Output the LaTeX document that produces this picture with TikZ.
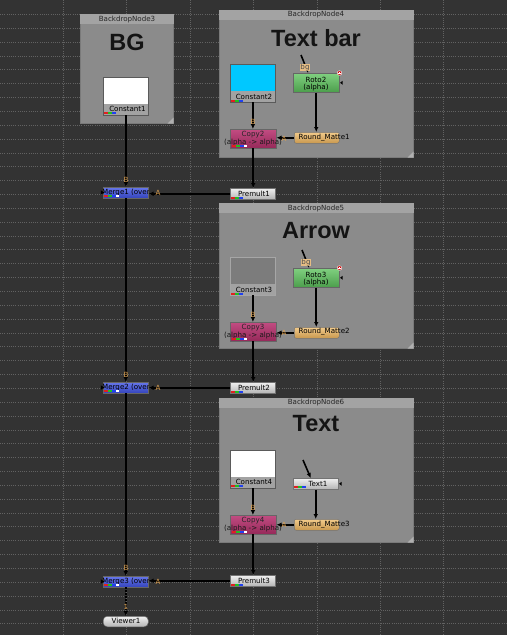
\documentclass[tikz,border=0pt]{standalone}
\usepackage{fontspec}
\setmainfont{DejaVu Sans}
\newfontfamily\bigfont{Liberation Sans}
\usetikzlibrary{arrows.meta}
\definecolor{bgc}{HTML}{333333}
\definecolor{gridc}{HTML}{626262}
\definecolor{bdbody}{HTML}{8B8B8B}
\definecolor{bdtitle}{HTML}{A3A3A3}
\definecolor{bdedge}{HTML}{7A7A7A}
\definecolor{bdtri}{HTML}{B0B0B0}
\definecolor{strip}{HTML}{A2A2A2}
\definecolor{boxedge}{HTML}{5A5A5A}
\definecolor{cyanc}{HTML}{00C8FF}
\definecolor{grayc}{HTML}{7C7C7C}
\definecolor{rotoT}{HTML}{80D080}
\definecolor{rotoB}{HTML}{4C9E4C}
\definecolor{copyT}{HTML}{C24C82}
\definecolor{copyB}{HTML}{962A5A}
\definecolor{rmT}{HTML}{F2CA8A}
\definecolor{rmB}{HTML}{C8984E}
\definecolor{pT}{HTML}{F0F0F0}
\definecolor{pB}{HTML}{B4B4B4}
\definecolor{mT}{HTML}{6676EA}
\definecolor{mB}{HTML}{3646BE}
\definecolor{tanc}{HTML}{DCA050}
\definecolor{chR}{HTML}{E02020}
\definecolor{chG}{HTML}{20C020}
\definecolor{chB}{HTML}{2040F0}
\newcommand\lbl{\fontsize{7.1}{7.5}\selectfont}
\newcommand\bigt{\bigfont\bfseries\fontsize{23.5}{24}\selectfont}
\newcommand\chmarks[3]{%
  \fill[chR] (#1,#2) rectangle ++(4,2);
  \fill[chG] (#1+4,#2) rectangle ++(4,2);
  \fill[chB] (#1+8,#2) rectangle ++(4,2);
  \ifnum#3=1 \fill[white] (#1+12,#2) rectangle ++(3,2);\fi}
\tikzset{
  lbl/.style={font=\lbl, inner sep=0pt, text=black},
  inl/.style={font=\lbl, inner sep=0pt, text=tanc},
  bigtitle/.style={font=\bigt, inner sep=0pt, text=black!92},
  bd/.style={fill=bdbody, draw=bdedge, line width=0.6pt, anchor=north west, inner sep=0pt},
  constbox/.style={draw=boxedge, line width=0.8pt, anchor=north west, inner sep=0pt,
    minimum width=45, minimum height=37.5,
    path picture={\fill[strip] ([yshift=10.5pt]path picture bounding box.south west) rectangle (path picture bounding box.south east);}},
  rotobox/.style={draw=black!60, line width=0.5pt, top color=rotoT, bottom color=rotoB, anchor=north west, inner sep=0pt, minimum width=46, minimum height=19},
  copybox/.style={draw=black!60, line width=0.5pt, top color=copyT, bottom color=copyB, anchor=north west, inner sep=0pt, minimum width=46, minimum height=18.5},
  rmbox/.style={draw=black!55, line width=0.5pt, top color=rmT, bottom color=rmB, rounded corners=2pt, anchor=north west, inner sep=0pt, minimum width=45, minimum height=11},
  greybox/.style={draw=black!55, line width=0.5pt, top color=pT, bottom color=pB, anchor=north west, inner sep=0pt, minimum width=45, minimum height=11},
  mergebox/.style={draw=black!60, line width=0.5pt, top color=mT, bottom color=mB, anchor=north west, inner sep=0pt, minimum width=45, minimum height=10.5},
  viewerbox/.style={draw=black!60, line width=0.5pt, top color=pT, bottom color=pB, rounded corners=4pt, anchor=north west, inner sep=0pt, minimum width=45, minimum height=10.5},
  conn/.style={line width=1.6pt, black, -{Latex[length=5pt,width=4.6pt]}},
  vconn/.style={line width=1.5pt, black, dash pattern=on 1.5pt off 1.5pt, -{Latex[length=5pt,width=4.6pt]}},
  maskarr/.style={fill=black},
}
\begin{document}
\begin{tikzpicture}[x=1pt,y=-1pt]
\useasboundingbox (0,0) rectangle (507,635);
\fill[bgc] (0,0) rectangle (507,635);
% grid
\foreach \i in {1,...,7} \draw[gridc, line width=0.7pt, dash pattern=on 1pt off 1.2pt] (\i*63.375,0) -- (\i*63.375,635);
\foreach \j in {1,...,45} \draw[gridc, line width=0.7pt, dash pattern=on 1pt off 1.2pt] (0,\j*13.85+0.5) -- (507,\j*13.85+0.5);

% ---------- backdrops
\node[bd, minimum width=93, minimum height=109] (bd3) at (80,14) {};
\node[bd, minimum width=194, minimum height=147] (bd4) at (219,10) {};
\node[bd, minimum width=194, minimum height=145] (bd5) at (219,203) {};
\node[bd, minimum width=194, minimum height=144] (bd6) at (219,398) {};
\foreach \b in {bd3,bd4,bd5,bd6}{
  \fill[bdtitle] (\b.north west) rectangle ([yshift=-9.5pt]\b.north east);
  \fill[bdtri] (\b.south east) -- ++(-6,0) -- ++(6,-6) -- cycle;
}
\node[lbl, text=black!85] (bd3t) at (127,19.2) {BackdropNode3};
\node[lbl, text=black!85] (bd4t) at (316,14.9) {BackdropNode4};
\node[lbl, text=black!85] (bd5t) at (316,208.2) {BackdropNode5};
\node[lbl, text=black!85] (bd6t) at (316,402.9) {BackdropNode6};
\node[bigtitle] (bgT) at (127,42) {BG};
\node[bigtitle] (tbT) at (316,38) {Text bar};
\node[bigtitle] (arT) at (316,231) {Arrow};
\node[bigtitle] (txT) at (316,424) {Text};

% ---------- constants
\node[constbox, fill=white] (c1) at (103,77) {};
\node[constbox, fill=cyanc] (c2) at (230,64) {};
\node[constbox, fill=grayc, draw=black!35] (c3) at (230,257) {};
\node[constbox, fill=white] (c4) at (230,450) {};
\node[lbl] (c1t) at (127.5,109) {Constant1};
\node[lbl] (c2t) at (254,96.5) {Constant2};
\node[lbl] (c3t) at (254,289.5) {Constant3};
\node[lbl] (c4t) at (254,482) {Constant4};
\chmarks{104}{112}{0}
\chmarks{231}{99.5}{0}
\chmarks{231}{292.5}{0}
\chmarks{231}{485}{0}

% ---------- roto / text
\node[rotobox] (r2) at (293,73) {};
\node[lbl] (r2a) at (316,79.5) {Roto2};
\node[lbl] (r2b) at (316,88) {(alpha)};
\node[rotobox] (r3) at (293,268) {};
\node[lbl] (r3a) at (316,274.5) {Roto3};
\node[lbl] (r3b) at (316,283) {(alpha)};
\node[greybox] (t1) at (293,478) {};
\node[lbl] (t1a) at (318,483.5) {Text1};
\chmarks{294}{486}{0}
\foreach \r in {r2,r3}{
  \filldraw[fill=red!80!black, draw=white, line width=0.4pt] (\r.north east) circle (2.3);
  \draw[white, line width=0.5pt] ([xshift=-1.2pt]\r.north east) -- ([xshift=1.2pt]\r.north east);
  \draw[white, line width=0.5pt] ([yshift=-1.2pt]\r.north east) -- ([yshift=1.2pt]\r.north east);
}
\foreach \r in {r2,r3,t1}{
  \fill[maskarr] ([xshift=0.6pt]\r.east) -- ++(2.6,-2) -- ++(0,4) -- cycle;
}

% ---------- round mattes
\node[rmbox] (rm1) at (294,132) {};
\node[lbl, anchor=west] (rm1t) at (298.5,137.5) {Round\_Matte1};
\node[rmbox] (rm2) at (294,327) {};
\node[lbl, anchor=west] (rm2t) at (298.5,332) {Round\_Matte2};
\node[rmbox] (rm3) at (294,519) {};
\node[lbl, anchor=west] (rm3t) at (298.5,524.5) {Round\_Matte3};

% ---------- copies
\node[copybox] (cp2) at (230,129) {};
\node[lbl, text=black!85] (cp2a) at (253,134.5) {Copy2};
\node[lbl, text=black!90] (cp2b) at (253,142.7) {(alpha -> alpha)};
\node[copybox] (cp3) at (230,322) {};
\node[lbl, text=black!85] (cp3a) at (253,327.5) {Copy3};
\node[lbl, text=black!90] (cp3b) at (253,335.7) {(alpha -> alpha)};
\node[copybox] (cp4) at (230,515) {};
\node[lbl, text=black!85] (cp4a) at (253,520.5) {Copy4};
\node[lbl, text=black!90] (cp4b) at (253,528.7) {(alpha -> alpha)};
\chmarks{232}{144.5}{1}
\chmarks{232}{337.5}{1}
\chmarks{232}{530.5}{1}

% ---------- premults
\node[greybox] (p1) at (230,188) {};
\node[lbl] (p1t) at (254,193.5) {Premult1};
\node[greybox] (p2) at (230,382) {};
\node[lbl] (p2t) at (254,387.5) {Premult2};
\node[greybox] (p3) at (230,575) {};
\node[lbl] (p3t) at (254,580.5) {Premult3};
\chmarks{231}{196.5}{0}
\chmarks{231}{390.5}{0}
\chmarks{231}{583.5}{0}

% ---------- merges
\node[mergebox] (m1) at (103,187) {};
\node[mergebox] (m2) at (103,382) {};
\node[mergebox] (m3) at (103,576) {};
\begin{scope}
  \clip (m1.north west) rectangle (m1.south east);
  \node[lbl, anchor=west] (m1t) at (102,192.3) {Merge1 (over)};
\end{scope}
\begin{scope}
  \clip (m2.north west) rectangle (m2.south east);
  \node[lbl, anchor=west] (m2t) at (102,387.3) {Merge2 (over)};
\end{scope}
\begin{scope}
  \clip (m3.north west) rectangle (m3.south east);
  \node[lbl, anchor=west] (m3t) at (102,581.3) {Merge3 (over)};
\end{scope}
\chmarks{104}{195}{1}
\chmarks{104}{390}{1}
\chmarks{104}{584}{1}
\foreach \m in {m1,m2,m3}{
  \fill[maskarr] ([xshift=1.2pt]\m.west) -- ++(-3.4,-2.2) -- ++(0,4.4) -- cycle;
}

% ---------- viewer
\node[viewerbox] (v1) at (103,616) {};
\node[lbl] (v1t) at (126,621.3) {Viewer1};

% ---------- connectors
\draw[conn] (c1.south) -- (c1.south |- m1.north);
\node[inl] (b1) at (126,180) {B};
\draw[conn] (m1.south) -- (m2.north);
\node[inl] (b2) at (126,374.5) {B};
\draw[conn] (m2.south) -- (m3.north);
\node[inl] (b3) at (126,568) {B};
\draw[vconn] (m3.south) -- (v1.north);
\node[inl] (vi1) at (126,607) {1};

\foreach \c/\cp/\r/\rm/\p/\m in {c2/cp2/r2/rm1/p1/m1, c3/cp3/r3/rm2/p2/m2, c4/cp4/t1/rm3/p3/m3}{
  \draw[conn] (\c.south) -- (\c.south |- \cp.north);
  \draw[conn] (\r.south) -- (\r.south |- \rm.north);
  \draw[conn] (\rm.west) -- (\rm.west -| \cp.east);
  \draw[conn] (\cp.south) -- (\cp.south |- \p.north);
  \draw[conn] (\p.west) -- (\p.west -| \m.east);
}
\node[inl] (bc2) at (253,122) {B};
\node[inl] (bc3) at (253,315) {B};
\node[inl] (bc4) at (253,507.5) {B};
\node[inl] (ac2) at (284,138.5) {A};
\node[inl] (ac3) at (284,333) {A};
\node[inl] (ac4) at (284,525) {A};
\node[inl] (am1) at (158,193) {A};
\node[inl] (am2) at (158,387.5) {A};
\node[inl] (am3) at (158,581.5) {A};

% roto / text inputs
\coordinate (i2) at (301,55);
\coordinate (i3) at (302,250);
\coordinate (i4) at (303,460);
\draw[conn] (i2) -- ([xshift=-8pt]r2.north);
\draw[conn] (i3) -- ([xshift=-7pt]r3.north);
\draw[conn] (i4) -- ([xshift=-5pt]t1.north);
\node[inl, fill=tanc!70, text=black!70, inner sep=0.3pt] (bg2) at (305,67.5) {bg};
\node[inl, fill=tanc!70, text=black!70, inner sep=0.3pt] (bg3) at (306,262.5) {bg};
\end{tikzpicture}
\end{document}
